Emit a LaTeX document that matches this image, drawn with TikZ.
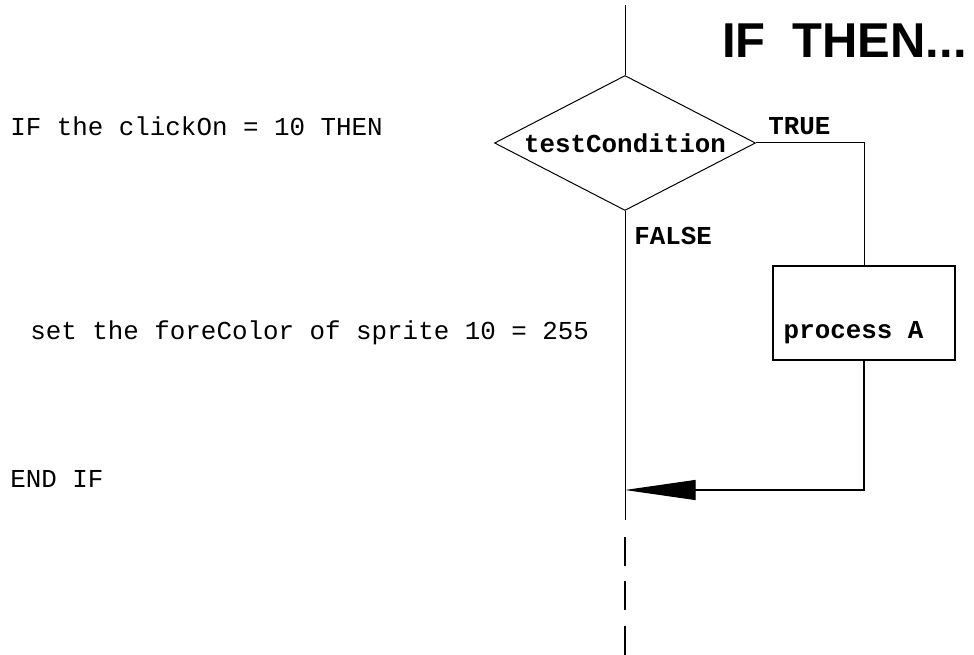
\documentclass[tikz,border=0pt]{standalone}
\usepackage{fontspec}
\usepackage{tikz}
\usetikzlibrary{arrows.meta,positioning,calc,shapes.geometric}
\newfontfamily\codefont{Liberation Mono}
\newfontfamily\headfont{Liberation Sans}

\begin{document}
\begin{tikzpicture}[x=0.75pt,y=-0.75pt,>=Triangle,
    code/.style={font=\codefont\fontsize{19.4}{23}\selectfont,inner sep=0pt},
    codeb/.style={code,font=\codefont\bfseries\fontsize{19.4}{23}\selectfont},
    decision/.style={draw,shape=diamond,inner sep=0pt,minimum width=195.75pt,minimum height=101.25pt,line width=0.75pt},
    procbox/.style={draw,rectangle,inner sep=0pt,minimum width=136.5pt,minimum height=70.5pt,line width=0.8pt},
    flow/.style={line width=0.75pt}]
  \useasboundingbox (0,0) rectangle (974,655);
  % heading
  \node[font=\headfont\bfseries\fontsize{36.7}{40}\selectfont,inner sep=0pt,anchor=base east] (title) at (967,58) {IF\ \ THEN...};
  % source lines
  \node[code,anchor=base west] (ifline) at (10,136) {IF the clickOn = 10 THEN};
  \node[code,anchor=base west] (setline) at (30,340) {set the foreColor of sprite 10 = 255};
  \node[code,anchor=base west] (endline) at (10,488) {END IF};
  % flow chart
  \coordinate (top) at (625,5);
  \node[decision] (cond) at (625,143) {};
  \node[codeb] (condtxt) at (cond.center) {testCondition};
  \node[procbox] (procA) at (864,313) {};
  \node[codeb,anchor=base west] (proctxt) at ($(procA.south west)+(11,-22)$) {process A};
  \node[codeb,anchor=base west] (truelbl) at (768,135) {TRUE};
  \node[codeb,anchor=base west] (falselbl) at (634,245) {FALSE};
  \coordinate (join) at (625,490);
  \coordinate (bottom) at (625,520);
  \coordinate (dashtop) at (625,537);
  \coordinate (dashend) at (625,655);
  \draw[flow] (top) -- (cond.north);
  \draw[flow] (cond.south) -- (bottom);
  \draw[flow] (cond.east) -| (procA.north);
  \draw[flow,line width=0.9pt,-{Triangle[length=53pt,width=15pt]}] (procA.south) |- (join);
  \draw[line width=1.1pt,dash pattern=on 21.75pt off 11.5pt] (dashtop) -- (dashend);
\end{tikzpicture}
\end{document}
